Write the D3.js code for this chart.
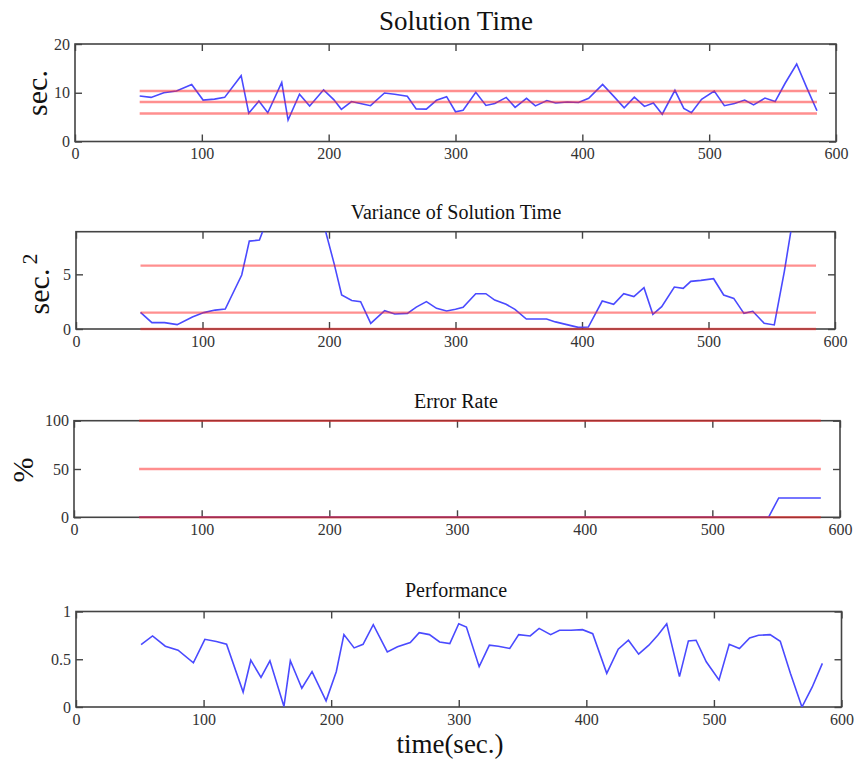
<html>
<head>
<meta charset="utf-8">
<script src="https://cdn.jsdelivr.net/npm/d3@7/dist/d3.min.js"></script>
<style>
  body { margin: 0; background: #fff; }
  svg text { font-family: "Liberation Serif", "Times New Roman", serif; }
  .tick line { stroke: #444; stroke-width: 1.4; }
</style>
</head>
<body>
<svg id="chart" width="856" height="765"></svg>
<script>
// sample times (sec.), shared by all four panels
var times = [51, 60, 70, 80, 92, 101, 110, 118, 131, 137,
             145, 152, 163, 168, 177, 185, 196, 204, 210, 218,
             225, 233, 244, 252, 262, 269, 277, 285, 293, 300,
             306, 316, 324, 331, 340, 347, 356, 363, 372, 379,
             388, 397, 405, 416, 425, 433, 441, 449, 456, 463,
             473, 480, 486, 494, 504, 512, 520, 528, 535, 544,
             552, 560, 569, 577, 585];

var solutionTime = [9.33, 9.05, 10.0, 10.36, 11.7, 8.5, 8.7, 9.05, 13.5, 5.8,
                    8.3, 5.9, 12.1, 4.4, 9.7, 7.3, 10.6, 8.6, 6.6, 8.2,
                    7.8, 7.35, 9.95, 9.7, 9.27, 6.7, 6.65, 8.45, 9.2, 6.1,
                    6.4, 10.1, 7.4, 7.8, 9.05, 7.0, 8.85, 7.3, 8.4, 7.9,
                    8.1, 8.0, 8.85, 11.7, 9.2, 6.9, 9.1, 7.2, 7.9, 5.6,
                    10.5, 6.8, 5.9, 8.65, 10.36, 7.35, 7.8, 8.5, 7.5, 8.9,
                    8.2, 12.0, 15.9, 11.0, 6.3];

var variance = [1.52, 0.58, 0.58, 0.4, 1.1, 1.5, 1.73, 1.83, 4.94, 8.04,
                8.13, 10.3, 12, 14, 13, 12, 9.5, 6.0, 3.11, 2.6,
                2.5, 0.52, 1.68, 1.37, 1.43, 2.0, 2.5, 1.89, 1.65, 1.8,
                1.98, 3.23, 3.23, 2.65, 2.26, 1.8, 0.91, 0.91, 0.91, 0.65,
                0.4, 0.15, 0.18, 2.56, 2.26, 3.23, 2.96, 3.78, 1.34, 2.04,
                3.84, 3.72, 4.36, 4.45, 4.6, 3.11, 2.8, 1.43, 1.62, 0.52,
                0.37, 5.3, 11.7, 12, 12];

var errorRate = [0, 0, 0, 0, 0, 0, 0, 0, 0, 0,
                 0, 0, 0, 0, 0, 0, 0, 0, 0, 0,
                 0, 0, 0, 0, 0, 0, 0, 0, 0, 0,
                 0, 0, 0, 0, 0, 0, 0, 0, 0, 0,
                 0, 0, 0, 0, 0, 0, 0, 0, 0, 0,
                 0, 0, 0, 0, 0, 0, 0, 0, 0, 0,
                 20, 20, 20, 20, 20];

var performance = [0.654, 0.744, 0.637, 0.595, 0.463, 0.709, 0.685, 0.657, 0.156, 0.49,
                   0.31, 0.484, 0.006, 0.484, 0.197, 0.37, 0.065, 0.37, 0.758, 0.619,
                   0.657, 0.862, 0.577, 0.63, 0.675, 0.778, 0.758, 0.681, 0.664, 0.872,
                   0.837, 0.422, 0.647, 0.637, 0.613, 0.758, 0.744, 0.823, 0.758, 0.803,
                   0.803, 0.81, 0.768, 0.353, 0.605, 0.699, 0.553, 0.647, 0.751, 0.872,
                   0.318, 0.692, 0.699, 0.474, 0.284, 0.657, 0.613, 0.723, 0.751, 0.758,
                   0.688, 0.35, 0.0, 0.207, 0.457];

// control limits (red lines) and their time span
var limitSpan = [51, 585];
var solutionLimits = [10.35, 8.1, 5.75];
var varianceLimits = [5.8, 1.5, 0];
var errorLimits = [100, 50, 0];

var xTicks = [0, 100, 200, 300, 400, 500, 600];

var panels = [
  {title: "Solution Time", values: solutionTime, limits: solutionLimits,
   yDomain: [0, 20], yTicks: [0, 10, 20],
   left: 75, right: 836, top: 44, bottom: 141.5, titleY: 30, titleSize: 27},
  {title: "Variance of Solution Time", values: variance, limits: varianceLimits,
   yDomain: [0, 8.9], yTicks: [0, 5],
   left: 76, right: 835, top: 231.7, bottom: 329, titleY: 219, titleSize: 20},
  {title: "Error Rate", values: errorRate, limits: errorLimits,
   yDomain: [0, 100], yTicks: [0, 50, 100],
   left: 74, right: 840, top: 420.7, bottom: 517.3, titleY: 408, titleSize: 20},
  {title: "Performance", values: performance, limits: [],
   yDomain: [0, 1], yTicks: [0, 0.5, 1],
   left: 76, right: 841.5, top: 611.5, bottom: 707, titleY: 597, titleSize: 20}
];

var svg = d3.select("#chart");

panels.forEach(function(p, i) {
  var x = d3.scaleLinear().domain([0, 600]).range([p.left, p.right]);
  var y = d3.scaleLinear().domain(p.yDomain).range([p.bottom, p.top]);
  var g = svg.append("g");

  g.append("clipPath").attr("id", "clip" + i)
    .append("rect")
    .attr("x", p.left).attr("y", p.top)
    .attr("width", p.right - p.left).attr("height", p.bottom - p.top);

  // frame
  g.append("rect")
    .attr("x", p.left).attr("y", p.top)
    .attr("width", p.right - p.left).attr("height", p.bottom - p.top)
    .attr("fill", "none").attr("stroke", "#444").attr("stroke-width", 1.6);

  // axes, ticks pointing inward
  var bottom = g.append("g").attr("transform", "translate(0," + p.bottom + ")")
    .call(d3.axisBottom(x).tickValues(xTicks).tickSizeInner(-7).tickSizeOuter(0).tickPadding(5));
  g.append("g").attr("transform", "translate(0," + p.top + ")")
    .call(d3.axisTop(x).tickValues(xTicks).tickSizeInner(-7).tickSizeOuter(0).tickFormat(""));
  g.append("g").attr("transform", "translate(" + p.left + ",0)")
    .call(d3.axisLeft(y).tickValues(p.yTicks).tickSizeInner(-7).tickSizeOuter(0).tickPadding(5)
      .tickFormat(function(d) { return d3.format("")(d); }));
  g.append("g").attr("transform", "translate(" + p.right + ",0)")
    .call(d3.axisRight(y).tickValues(p.yTicks).tickSizeInner(-7).tickSizeOuter(0).tickFormat(""));
  g.selectAll(".domain").remove();
  g.selectAll(".tick text")
    .style("font-family", "'Liberation Serif', 'Times New Roman', serif")
    .style("font-size", "16px")
    .style("fill", "#333");
  bottom.selectAll(".tick text").attr("dy", "0.8em");

  // blue series
  var line = d3.line()
    .x(function(d, k) { return x(times[k]); })
    .y(function(d) { return y(d); });
  g.append("path")
    .datum(p.values)
    .attr("clip-path", "url(#clip" + i + ")")
    .attr("fill", "none")
    .attr("stroke", "#4a4aff")
    .attr("stroke-width", 1.6)
    .attr("d", line);

  // red limit lines
  g.selectAll(".limit").data(p.limits).enter().append("line")
    .attr("class", "limit")
    .attr("x1", x(limitSpan[0])).attr("x2", x(limitSpan[1]))
    .attr("y1", function(d) { return y(d); })
    .attr("y2", function(d) { return y(d); })
    .attr("stroke", "#ff2020").attr("stroke-opacity", 0.5)
    .attr("stroke-width", 2.4);

  // title
  svg.append("text")
    .attr("x", 456).attr("y", p.titleY)
    .attr("text-anchor", "middle")
    .attr("font-size", p.titleSize + "px")
    .attr("fill", "#111")
    .text(p.title);
});

// y labels
svg.append("text")
  .attr("transform", "translate(47,93) rotate(-90)")
  .attr("text-anchor", "middle").attr("font-size", "30px").attr("fill", "#111")
  .text("sec.");

var varLabel = svg.append("text")
  .attr("transform", "translate(49,284) rotate(-90)")
  .attr("text-anchor", "middle").attr("font-size", "30px").attr("fill", "#111");
varLabel.append("tspan").text("sec.");
varLabel.append("tspan").attr("dx", 4).attr("dy", -12).attr("font-size", "22px").text("2");

svg.append("text")
  .attr("transform", "translate(33,470) rotate(-90)")
  .attr("text-anchor", "middle").attr("font-size", "30px").attr("fill", "#111")
  .text("%");

// x label
svg.append("text")
  .attr("x", 450).attr("y", 753)
  .attr("text-anchor", "middle").attr("font-size", "27px").attr("fill", "#111")
  .text("time(sec.)");
</script>
</body>
</html>
